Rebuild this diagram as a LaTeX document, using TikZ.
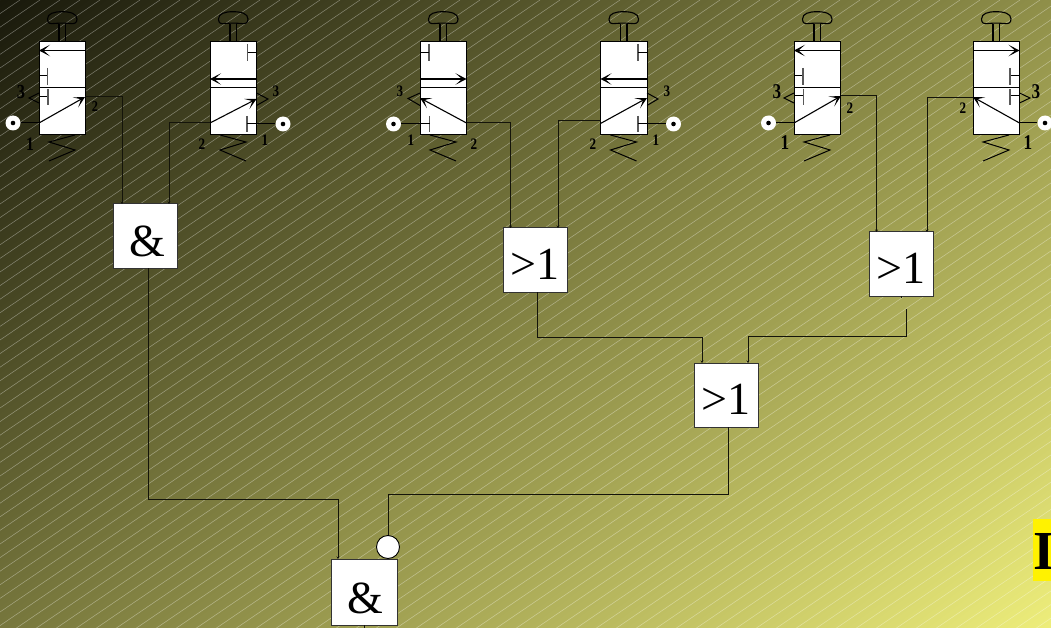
\documentclass[tikz,border=0pt]{standalone}
\usepackage{fontspec}
\setmainfont{Liberation Serif}
\usetikzlibrary{arrows.meta}
\definecolor{bgA}{HTML}{16160A}
\definecolor{bgB}{HTML}{F0F07C}
\definecolor{ink}{HTML}{14140A}
\newcommand{\fsz}[1]{\fontsize{#1}{#1}\selectfont}
\tikzset{
  wire/.style={draw=ink,line width=1pt},
  inwire/.style={draw=ink,line width=1pt,-{Stealth[length=2.5pt,width=3pt]}},
  thin wire/.style={draw=black,line width=1pt},
  flow/.style={draw=black,line width=1.1pt,-{Stealth[length=11pt,width=11.5pt,inset=6.5pt]}},
  bar/.style={draw=black!65,line width=1.1pt},
  valvebody/.style={draw=black,line width=0.9pt,fill=white,inner sep=0,minimum width=46.5pt,minimum height=93pt},
  gate/.style={draw=black!80,line width=1pt,fill=white,inner sep=0,minimum width=64pt,minimum height=64pt,font=\fsz{46},text height=38pt,text depth=0pt},
  port/.style={draw=none,fill=white,circle,inner sep=0,minimum size=15pt},
  plabel/.style={inner sep=0,font=\bfseries},
}
\newcommand{\vbase}[3]{%
  \begin{scope}[shift={(#2,0)}]
    \draw[fill=none,line width=1.1pt,draw=black] (20,24)--(20,41) (26.5,24)--(26.5,41);
    \draw[line width=1.1pt] (8.5,19) .. controls (8.5,13.5) and (15,11.7) .. (23,11.7) .. controls (31,11.7) and (38,13.5) .. (38,19) .. controls (38,23.5) and (35,24) .. (31,23.5) .. controls (26,23) and (20,23) .. (15,23.5) .. controls (11,24) and (8.5,23.5) .. (8.5,19) -- cycle;
    \node[valvebody] (#1) at (23.25,87.5) {};
    \draw[line width=1pt] (0,88) -- (46.5,88);
    \draw[line width=1pt] #3;
  \end{scope}}
\newcommand{\pl}[5]{\node[plabel,font=\bfseries\fsz{#2}] (#1) at (#3,#4) {\scalebox{0.82}[1]{#5}};}
\newcommand{\springR}{(36,135)--(10,142)--(36,150)--(10,161)}
\newcommand{\springL}{(10,135)--(36,142)--(10,150)--(36,161)}
\newcommand{\pdot}[1]{\fill[black] (#1) circle (2.3);}
\begin{document}
\begin{tikzpicture}[x=1pt,y=-1pt]
\useasboundingbox (0,0) rectangle (1051,628);
\begin{scope}
\clip (0,0) rectangle (1051,628);
\shade[transform canvas={shift={(525.5,314)},rotate=-53},left color=bgA,right color=bgB] (-580,-800) rectangle (580,800);
\foreach \k in {0,...,130}{
  \draw[white,opacity=0.36,line width=0.55pt] ({\k*20-600},0) -- ({\k*20-600-1000},680);
}
\end{scope}

% gates
\node[gate,text height=42pt] (g1) at (145.5,236) {\hspace*{3pt}\&};
\node[gate] (g2) at (535,260) {>1};
\node[gate] (g3) at (901,264) {>1};
\node[gate] (g4) at (726,395) {>1};
\node[gate,minimum width=66pt,minimum height=66pt,text height=42pt] (g5) at (364,592) {\hspace*{3pt}\&};
\node[circle,draw=black,line width=0.9pt,fill=white,inner sep=0,minimum size=23pt] (neg) at (388,547) {};

% valve 1
\vbase{v1}{39}{\springR}
\coordinate (v1a) at (39,123); \coordinate (v1b) at (85,97);
\draw[flow] (85,50.5) -- (39,50.5);
\draw[thin wire] (39,76) -- (47.5,76); \draw[bar] (47.5,68) -- (47.5,85);
\draw[thin wire] (39,97) -- (48,97); \draw[bar] (48,89) -- (48,105);
\draw[line width=1pt] (39,93) -- (29,98) -- (39,103);
\draw[flow] (v1a) -- (v1b);
\node[port] (p1) at (13,123) {}; \pdot{p1}
\draw[thin wire] (p1) -- (v1a);
\pl{a3}{20}{21}{92}{3} \pl{a2}{15}{95}{107}{2} \pl{a1}{19}{30}{144}{1}

% valve 2
\vbase{v2}{210}{\springL}
\coordinate (v2a) at (210,123); \coordinate (v2b) at (256.5,99);
\draw[bar] (247.5,44) -- (247.5,61); \draw[thin wire] (247.5,53) -- (256.5,53);
\draw[flow] (256.5,79) -- (210,79);
\draw[flow] (v2a) -- (v2b);
\draw[line width=1pt] (256.5,93) -- (268,99) -- (256.5,105.5);
\draw[bar] (247,116) -- (247,132);
\node[port] (p2) at (283,124) {}; \pdot{p2}
\draw[thin wire] (p2) -- (247,124);
\pl{b3}{16}{276}{91}{3} \pl{b2}{16}{202}{144}{2} \pl{b1}{16}{265}{140}{1}

% valve 3
\vbase{v3}{420}{\springL}
\coordinate (v3a) at (466.5,123); \coordinate (v3b) at (420,98);
\draw[bar] (429,44) -- (429,61); \draw[thin wire] (420,53) -- (429,53);
\draw[flow] (420,79) -- (466.5,79);
\draw[flow] (v3a) -- (v3b);
\draw[line width=1pt] (420,93) -- (408,98.5) -- (420,105.5);
\draw[bar] (429.5,116) -- (429.5,132);
\node[port] (p3) at (393.5,124) {}; \pdot{p3}
\draw[thin wire] (p3) -- (429.5,124);
\pl{c3}{16}{400}{91}{3} \pl{c2}{16}{474}{144}{2} \pl{c1}{16}{411}{140}{1}

% valve 4
\vbase{v4}{600.5}{\springL}
\coordinate (v4a) at (600.5,123.5); \coordinate (v4b) at (647,98);
\draw[bar] (638,44) -- (638,61); \draw[thin wire] (638,53) -- (647,53);
\draw[flow] (647,79) -- (600.5,79);
\draw[flow] (v4a) -- (v4b);
\draw[line width=1pt] (647,93) -- (658,99) -- (647,105.5);
\draw[bar] (638,116) -- (638,132);
\node[port] (p4) at (673.5,124) {}; \pdot{p4}
\draw[thin wire] (p4) -- (638,124);
\pl{d3}{16}{667}{91}{3} \pl{d2}{16}{593}{144}{2} \pl{d1}{16}{656}{140}{1}

% valve 5
\vbase{v5}{794}{\springR}
\coordinate (v5a) at (794,123); \coordinate (v5b) at (841,96);
\draw[flow] (841,50.5) -- (794,50.5);
\draw[thin wire] (794,76) -- (803,76); \draw[bar] (803,68) -- (803,85);
\draw[thin wire] (794,96) -- (803.5,96); \draw[bar] (803.5,89) -- (803.5,105);
\draw[line width=1pt] (794,93) -- (784,98) -- (794,103);
\draw[flow] (v5a) -- (v5b);
\node[port] (p5) at (768.5,123) {}; \pdot{p5}
\draw[thin wire] (p5) -- (v5a);
\pl{e3}{21}{777}{92}{3} \pl{e2}{16}{850}{108}{2} \pl{e1}{21}{785}{143}{1}

% valve 6
\vbase{v6}{973}{\springR}
\coordinate (v6a) at (1019.5,123); \coordinate (v6b) at (973,97);
\draw[flow] (973,50.5) -- (1019.5,50.5);
\draw[thin wire] (1010,76) -- (1019.5,76); \draw[bar] (1010,68) -- (1010,85);
\draw[thin wire] (1010,96) -- (1019.5,96); \draw[bar] (1010,89) -- (1010,105);
\draw[line width=1pt] (1019.5,93) -- (1030,98) -- (1019.5,103);
\draw[flow] (v6a) -- (v6b);
\node[port] (p6) at (1045,123) {}; \pdot{p6}
\draw[thin wire] (p6) -- (v6a);
\pl{f3}{21}{1036}{92}{3} \pl{f2}{16}{963}{108}{2} \pl{f1}{21}{1028}{143}{1}

% connector end points
\coordinate (g1a) at (122,204); \coordinate (g1b) at (169,204);
\coordinate (g2a) at (510.5,228); \coordinate (g2b) at (558,228);
\coordinate (g3a) at (876.5,232); \coordinate (g3b) at (927,232);
\coordinate (g4a) at (702,363); \coordinate (g4b) at (748,363);
\coordinate (g5a) at (338,559);
\coordinate (g1o) at (148,268); \coordinate (g2o) at (537,292);
\coordinate (g3o) at (906,309); \coordinate (g4o) at (728.5,427);
\coordinate (g3s) at (901,296); \coordinate (g3t) at (901,298);
\coordinate (g5o) at (364,625); \coordinate (g5t) at (364,628);
\coordinate (j1) at (338,499); \coordinate (j2) at (702,337.5);
\coordinate (j3) at (748,336.5); \coordinate (j4) at (388,494);

\draw[inwire] (v1b) -| (g1a);
\draw[inwire] (v2a) ++(0,-0.5) -| (g1b);
\draw[inwire] (v3a) ++(0,-0.5) -| (g2a);
\draw[inwire] (v4a) ++(0,-3) -| (g2b);
\draw[inwire] (v5b) ++(0,-0.5) -| (g3a);
\draw[inwire] (v6b) ++(0,0.5) -| (g3b);
\draw[inwire] (g1o) |- (j1) -- (g5a);
\draw[inwire] (g2o) |- (j2) -- (g4a);
\draw[inwire] (g3o) |- (j3) -- (g4b);
\draw[wire] (g4o) |- (j4) -- (neg);
\draw[wire] (g3s) -- (g3t);
\draw[wire] (g5o) -- (g5t);

% cut-off highlighted letter
\begin{scope}
\clip (0,0) rectangle (1051,628);
\node[fill=yellow,inner sep=0,anchor=west,minimum width=30pt,minimum height=62pt,align=left,text height=38pt,text depth=0pt,font=\bfseries\fsz{55},text width=30pt] (hl) at (1033,550) {I};
\end{scope}
\end{tikzpicture}
\end{document}
